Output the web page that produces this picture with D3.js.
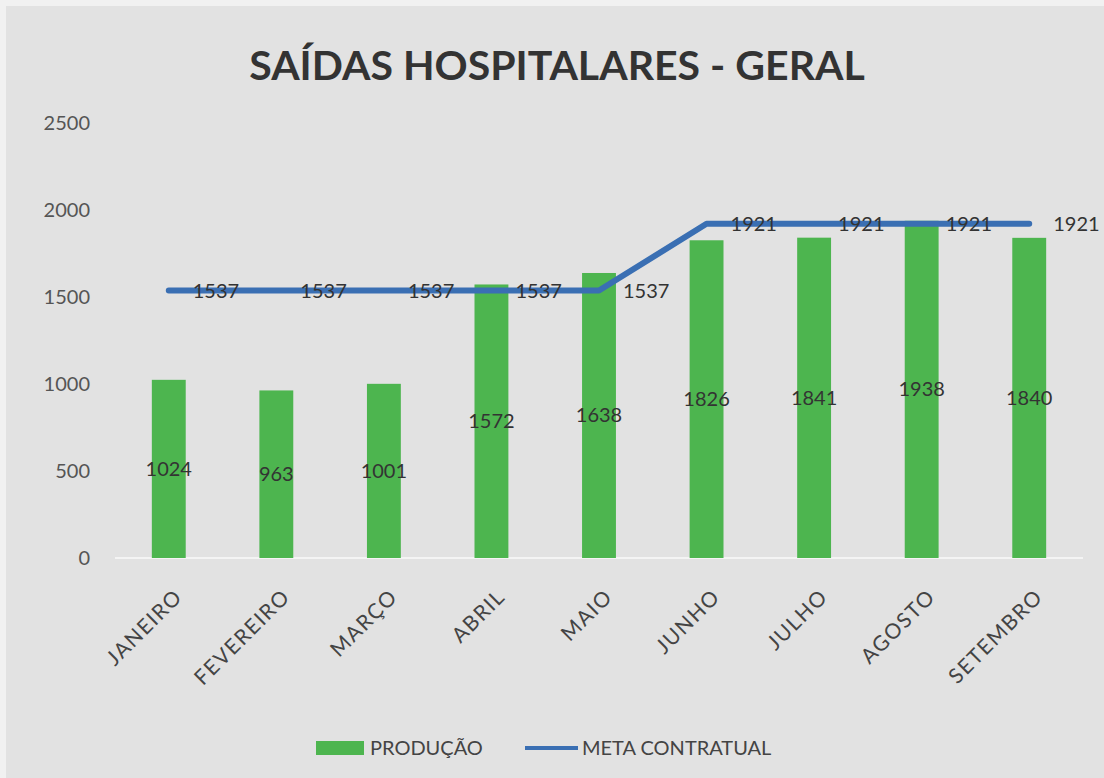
<!DOCTYPE html>
<html>
<head>
<meta charset="utf-8">
<script src="https://cdn.jsdelivr.net/npm/d3@7"></script>
<style>
  body { margin: 0; background: #f1f1f1; }
  svg { display: block; font-family: Lato, "Open Sans", sans-serif; }
</style>
</head>
<body>
<div id="wrapper"></div>
<script>
const months = ["JANEIRO", "FEVEREIRO", "MARÇO", "ABRIL", "MAIO", "JUNHO", "JULHO", "AGOSTO", "SETEMBRO"];
const producao = [1024, 963, 1001, 1572, 1638, 1826, 1841, 1938, 1840];
const meta = [1537, 1537, 1537, 1537, 1537, 1921, 1921, 1921, 1921];
const yTicks = [0, 500, 1000, 1500, 2000, 2500];

let dimensions = {
  width: 1104, height: 778,
  margin: { top: 123, right: 21, bottom: 220, left: 115 },
};
dimensions.boundedWidth = dimensions.width - dimensions.margin.left - dimensions.margin.right;
dimensions.boundedHeight = dimensions.height - dimensions.margin.top - dimensions.margin.bottom;

const wrapper = d3.select("#wrapper").append("svg")
  .attr("width", dimensions.width)
  .attr("height", dimensions.height);

// scanned page background
wrapper.append("rect")
  .attr("x", 6).attr("y", 6)
  .attr("width", dimensions.width - 6).attr("height", dimensions.height - 6)
  .attr("fill", "#e2e2e2");

wrapper.append("text")
  .attr("x", 557).attr("y", 80)
  .attr("text-anchor", "middle")
  .attr("font-size", 41)
  .attr("font-weight", "bold")
  .attr("fill", "#333")
  .text("SAÍDAS HOSPITALARES - GERAL");

const bounds = wrapper.append("g")
  .attr("transform", `translate(${dimensions.margin.left},${dimensions.margin.top})`);

const xScale = d3.scaleBand()
  .domain(months)
  .range([0, dimensions.boundedWidth])
  .paddingInner(0.685)
  .paddingOuter(0.3425);

const yScale = d3.scaleLinear()
  .domain([0, 2500])
  .range([dimensions.boundedHeight, 0]);

// y axis
const yAxis = bounds.append("g")
  .call(d3.axisLeft(yScale).tickValues(yTicks).tickFormat(d3.format("d")).tickSize(0).tickPadding(25));
yAxis.select(".domain").remove();
yAxis.selectAll("text")
  .attr("font-size", 20)
  .attr("font-family", "Lato, sans-serif")
  .attr("fill", "#555");

// baseline
bounds.append("line")
  .attr("x1", 0).attr("x2", dimensions.boundedWidth)
  .attr("y1", yScale(0)).attr("y2", yScale(0))
  .attr("stroke", "#f4f4f4").attr("stroke-width", 2);

// bars
bounds.selectAll(".bar")
  .data(producao)
  .join("rect")
  .attr("class", "bar")
  .attr("x", (d, i) => xScale(months[i]))
  .attr("width", xScale.bandwidth())
  .attr("y", d => yScale(d))
  .attr("height", d => yScale(0) - yScale(d))
  .attr("fill", "#4db54f");

// x axis
const xAxis = bounds.append("g")
  .attr("transform", `translate(0,${dimensions.boundedHeight})`)
  .call(d3.axisBottom(xScale).tickSize(0).tickPadding(0));
xAxis.select(".domain").remove();
xAxis.selectAll("text")
  .attr("font-size", 21)
  .attr("letter-spacing", 1.5)
  .attr("font-family", "Lato, sans-serif")
  .attr("fill", "#444")
  .attr("text-anchor", "end")
  .attr("dy", 0)
  .attr("transform", "translate(15,40) rotate(-45)");

// meta line
const lineGenerator = d3.line()
  .x((d, i) => xScale(months[i]) + xScale.bandwidth() / 2)
  .y(d => yScale(d));

bounds.append("path")
  .attr("d", lineGenerator(meta))
  .attr("fill", "none")
  .attr("stroke", "#3a6fb3")
  .attr("stroke-width", 6)
  .attr("stroke-linecap", "round")
  .attr("stroke-linejoin", "round");

// bar labels (centered)
bounds.selectAll(".barLabel")
  .data(producao)
  .join("text")
  .attr("class", "barLabel")
  .attr("x", (d, i) => xScale(months[i]) + xScale.bandwidth() / 2)
  .attr("y", d => (yScale(d) + yScale(0)) / 2)
  .attr("dy", "0.35em")
  .attr("text-anchor", "middle")
  .attr("font-size", 20)
  .attr("fill", "#333")
  .text(d => d);

// meta labels (right of point)
bounds.selectAll(".metaLabel")
  .data(meta)
  .join("text")
  .attr("class", "metaLabel")
  .attr("x", (d, i) => xScale(months[i]) + xScale.bandwidth() / 2 + 24)
  .attr("y", d => yScale(d))
  .attr("dy", "0.35em")
  .attr("font-size", 20)
  .attr("fill", "#333")
  .text(d => d);

// legend
const legend = wrapper.append("g").attr("transform", "translate(316,748)");
legend.append("rect")
  .attr("x", 0).attr("y", -7).attr("width", 48).attr("height", 14)
  .attr("fill", "#4db54f");
legend.append("text")
  .attr("x", 54).attr("y", 0).attr("dy", "0.35em")
  .attr("font-size", 20).attr("fill", "#444")
  .text("PRODUÇÃO");
legend.append("line")
  .attr("x1", 209).attr("x2", 262).attr("y1", 0).attr("y2", 0)
  .attr("stroke", "#3a6fb3").attr("stroke-width", 4);
legend.append("text")
  .attr("x", 266).attr("y", 0).attr("dy", "0.35em")
  .attr("font-size", 20).attr("fill", "#444")
  .text("META CONTRATUAL");
</script>
</body>
</html>
